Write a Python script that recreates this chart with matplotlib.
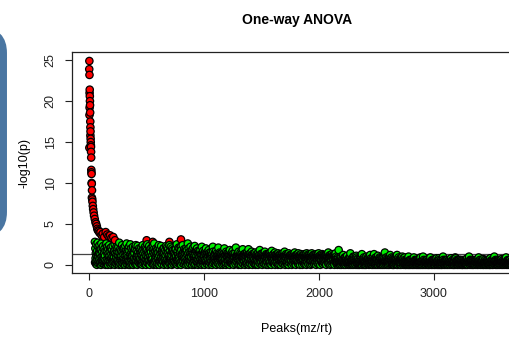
import matplotlib
matplotlib.use("Agg")
import matplotlib.pyplot as plt
from matplotlib.patches import FancyBboxPatch
import numpy as np

plt.rcParams["font.family"] = ["Liberation Sans", "DejaVu Sans"]

# significant peaks (red): peak index and -log10(p)
sig_x = [3, 2, 4, 6, 5, 7, 8, 9, 5, 10, 4, 11, 12, 13, 12, 14, 15, 16, 3, 17,
         18, 19, 20, 21, 22, 23, 24, 26, 25, 28, 30, 33, 36, 40, 44, 50, 56, 62,
         68, 72, 78, 85, 92, 100, 110, 120, 132, 145, 158, 170, 183, 196, 211,
         226, 501, 554, 699, 800]
sig_y = [24.9, 23.9, 23.2, 21.4, 21.0, 20.6, 20.0, 19.5, 19.2, 18.6, 18.3, 17.5,
         16.8, 16.3, 15.8, 15.4, 15.0, 14.6, 14.3, 14.4, 13.8, 13.1, 11.6, 11.3,
         11.1, 10.0, 9.9, 9.1, 8.2, 8.0, 7.7, 7.2, 6.8, 6.4, 6.0, 5.6, 5.2, 5.0,
         4.7, 4.4, 4.2, 4.1, 3.9, 4.0, 3.6, 3.8, 3.4, 4.0, 3.7, 3.5, 3.6, 3.3,
         3.4, 3.0, 3.0, 2.8, 2.8, 3.1]

# non-significant peaks (green): -log10(p) in tenths, one base-36 digit per peak
# (0-9, a=10 ... s=28), one row per 100 peaks starting at index 50
band_start = 50
band_step = 100
band_rows = [
    "s3k8e1p5b0 h6r2c9m4f7 o1i3d8j0q5 a2g6l4n9c1 e7k3b5h0p2",
    "q4h1m7c0j5 e9o2b6k3g0 l8d2i5a1n7 f3c9h4p0e6 j2b8m1g5k7",
    "c2m6f0r3a7 j1e5h9b0o4 g2k8d1i6l3 e0n5b7h2q1 f8c4j6a0m3",
    "h5a0p3d7k1 f9b2i6m0c4 g8e3l1j7o2 a5h9d0n4f6 b3k8c1i7e2",
    "f1l6c3h0o8 e2j5a9g4m1 d7k0b6i3p2 c8f5h1n6e0 j9b4g7l2a5",
    "b7m2g0j4q1 d6h3a8k5e0 i2c7f9l1o4 b0g6j3d8n2 a1h5e7c4k9",
    "k0e6a3i8c1 n5g2l7d0j4 f9b3o1h6a2 m8e4c0k5g3 i7d1f6b9j2",
    "d3j8b1p5f0 h7c2l4a9k6 e1g3m0i5b8 d2o6f4c9j1 a7h3e8k0g5",
    "i2c7q4e0k8 a3g6d1m5b9 h4f0j7c3l2 e6a0n8g1d5 i9b4k2f7h0",
    "6c2g9a4e1i 7b3d0m5f8c 1h6a3e9b0g 4d7k2c5f1a 8e3b6i0d4f",
    "3a7d1f5b9c 0e4m2g6a8c 3b7f1d5h0a 4e9b2c6l1d 8a3f7b0e5c",
    "9d2a6f0c4b 8e1k5a3d7c 0g2b6e9a4c 1f5d8b0i3a 7c2e6b4d1h",
    "2b7e0a5c9d 3f1l6a4b8c 2e7d0g5a1b 9c3f6a0d4e 8b2j7c1a5d",
    "a4c0e8b2d6 a1f3c9b5j0 a7d2c4e1b8 a6g3c0d5b9 a2e7c1b4f0",
    "5b1d8a3c6e 0b4a9c2i7a 1d5b3c8a0e 6b2d4a7c1g 9b3a5d0c6b",
    "3a8c0b5d2a 7e1b4c9a0h 6b3a8c2d5a 1b7f0c4a9b 2d6a3c0e8b",
    "1c6a9b3d0a 5c8b2a7e4b 1a9c3g6a0b 5d2a8c1b4a 7d0e3a6b9c",
    "7a2b5c0a9d 3b6a1c8a4f 2b7a0c5b9a 3d6a1e4b8a 2c0a7b5d3a",
    "4b0a8c3a6b 1d9a2c5a7b 0e4a3c8a1b 6a9d2a5c0b 7a4e1a8b3c",
    "9a5b1c7a3b 8a0d4a6c2b 9a1e5a3b7a 0c8a4b6a2d 9a1c5b3a7a",
    "2a8b4a0c6a 9b3a5f1a7b 2a8c0a4b6a 1d9a3b5a7c 2a0b8a4e6a",
    "5183602974 i15362078a 4190536281 c470259381 6047283b51",
    "2706314958 0e31627504 8162a03957 1426083b59 3071648025",
    "6031928475 1d04635280 9371502648 0a52713694 2805163c71",
    "3851062749 0263d51807 4196302857 1b04726395 0817352064",
    "7140592638 0f52741903 6281507349 2063c18574 1930628047",
    "0526173849 3170c52608 4935170628 1702854a36 5082413960",
    "3051426035 1640a25031 6204153620 4153062914 0265314052",
    "1406253041 5203619042 3150426a03 6241035214 0352614031",
    "5031402639 1420531604 2615304152 0342618035 1503428061",
    "2405136042 0531a62403 1426053142 5036124053 3162043518",
    "3150426130 5206341908 2413605142 0531462035 1624053102",
    "0426153041 3502614038 1405236a41 2063514203 4150326051",
    "2531406253 1604235019 3152604132 5041263507 0214536041",
    "4102536041 2630514028 0415326041 5203614a25 1306245031",
    "1530426153 0241635207 4135026413 2061534290 3152406135",
    "3041526031 4205316240 1526304152 0341625031 4205136024",
]

p_cutoff = 0.05
x_ticks = [0, 1000, 2000, 3000]
y_ticks = [0, 5, 10, 15, 20, 25]

# peak index for each band value (values spread through their block of 100 peaks)
band_x, band_y = [], []
for b, row in enumerate(band_rows):
    vals = [int(ch, 36) / 10 for ch in row.replace(" ", "")]
    for j, v in enumerate(vals):
        band_x.append(band_start + b * band_step + (j + 0.5) * band_step / len(vals))
        band_y.append(v)

all_x = np.array(sig_x + band_x)
all_y = np.array(sig_y + band_y)
all_c = np.array(["#ff0000"] * len(sig_x) + ["#00ee00"] * len(band_x))
order = np.argsort(all_x, kind="stable")

fig = plt.figure(figsize=(5.10, 3.37), dpi=100)

# partial rounded box at the left edge
bg = fig.add_axes([0, 0, 1, 1])
bg.set_xlim(0, 510)
bg.set_ylim(337, 0)
bg.axis("off")
bg.add_patch(FancyBboxPatch((-60, 33), 61, 199, boxstyle="round,pad=0,rounding_size=20",
                            lw=8.6, ec="#4a76a2", fc="none"))

ax = fig.add_axes([72 / 510, 64 / 337, 462 / 510, 221 / 337])
ax.axhline(-np.log10(p_cutoff), color="#444444", lw=0.9, zorder=1)
ax.scatter(all_x[order], all_y[order], s=28, c=all_c[order], edgecolors="black",
           linewidths=0.9, zorder=2)

ax.set_xlim(-148, 3870)
ax.set_ylim(-1.0, 26.0)
ax.set_xticks(x_ticks)
ax.set_yticks(y_ticks)
ax.set_yticklabels([str(t) for t in y_ticks], rotation=90, va="center")
ax.tick_params(direction="out", length=5, width=0.8, labelsize=9, pad=6, colors="#222222")
for s in ax.spines.values():
    s.set_linewidth(0.9)
    s.set_color("#222222")

fig.text(297 / 510, 1 - 20 / 337, "One-way ANOVA", ha="center", va="center",
         fontsize=10, fontweight="bold")
fig.text(297 / 510, 1 - 329 / 337, "Peaks(mz/rt)", ha="center", va="center", fontsize=9)
fig.text(25 / 510, 1 - 163 / 337, "-log10(p)", ha="center", va="center", fontsize=9,
         rotation=90)

fig.savefig("out.png", dpi=100)
